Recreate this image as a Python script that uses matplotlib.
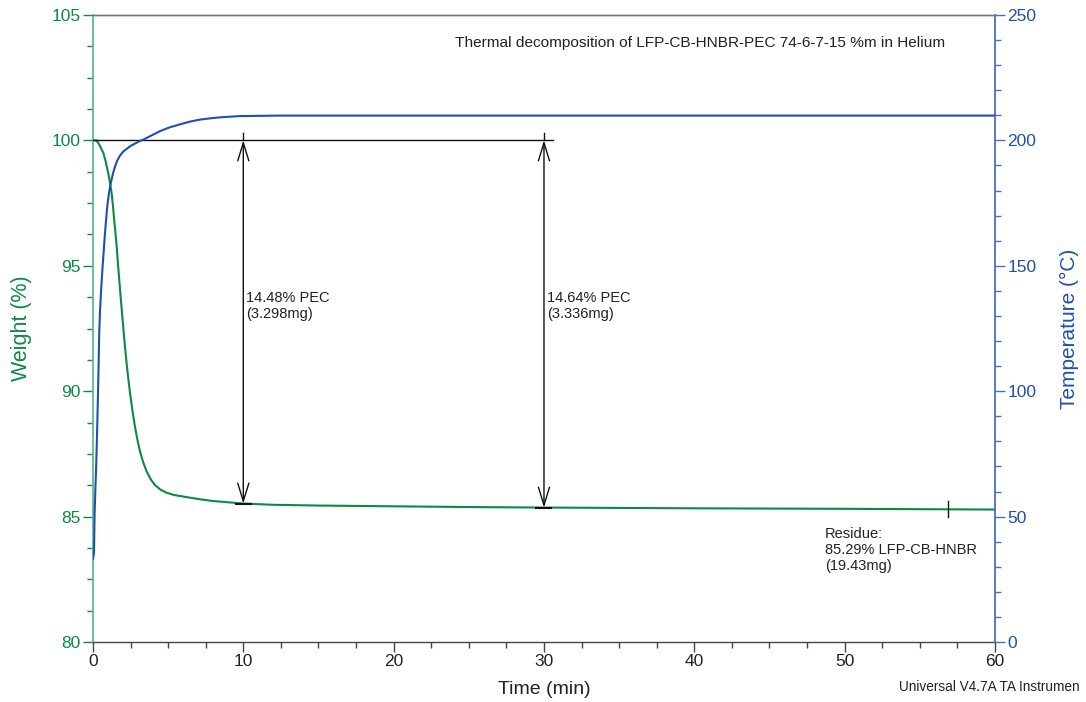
import matplotlib
matplotlib.use("Agg")
import matplotlib.pyplot as plt
from matplotlib.ticker import MultipleLocator

plt.rcParams['font.family'] = ['Liberation Sans', 'DejaVu Sans']

# Weight curve (time min, weight %)
w_time = [0.0, 0.24, 0.45, 0.69, 0.85, 1.02, 1.12, 1.24, 1.33, 1.4, 1.49, 1.58, 1.66, 1.75, 1.85, 1.95,
          2.05, 2.15, 2.25, 2.35, 2.46, 2.62, 2.79, 2.96, 3.13, 3.35, 3.57, 3.85, 4.12, 4.5, 4.9, 5.4, 6.0,
          6.5, 7.12, 8.0, 9.0, 10.0, 12.0, 15.0, 20.0, 25.0, 30.0, 40.0, 50.0, 56.9, 60.0]
w_val = [100.0, 100.0, 99.8, 99.5, 99.15, 98.69, 98.35, 97.9, 97.4, 96.9, 96.35, 95.76, 95.1, 94.43, 93.7, 93.0,
         92.3, 91.65, 91.05, 90.5, 89.95, 89.25, 88.6, 88.05, 87.6, 87.15, 86.8, 86.48, 86.26, 86.07, 85.95, 85.86, 85.8,
         85.75, 85.69, 85.62, 85.57, 85.52, 85.47, 85.44, 85.41, 85.38, 85.36, 85.33, 85.31, 85.29, 85.28]

# Temperature curve (time min, deg C)
t_time = [0.0, 0.07, 0.11, 0.16, 0.22, 0.28, 0.33, 0.38, 0.42, 0.47, 0.53, 0.64, 0.8, 0.95, 1.06,
          1.18, 1.32, 1.46, 1.62, 1.8, 2.02, 2.5, 3.13, 3.35, 3.9, 4.46, 5.1, 5.79, 6.45, 7.12, 7.8,
          8.45, 9.78, 12.4, 20.0, 30.0, 40.0, 50.0, 60.0]
t_val = [33.0, 35.5, 51.3, 61.0, 71.2, 85.0, 97.8, 112.0, 124.0, 132.0, 139.0, 149.6, 163.0, 173.6, 178.8,
         182.9, 186.5, 189.5, 192.0, 194.0, 195.6, 197.8, 199.8, 200.3, 202.0, 203.7, 205.2, 206.4, 207.5, 208.3, 208.8,
         209.2, 209.7, 209.9, 209.9, 209.9, 209.9, 209.9, 209.9]

title_text = "Thermal decomposition of LFP-CB-HNBR-PEC 74-6-7-15 %m in Helium"
step1_time, step1_low, step1_label = 10.0, 85.52, "14.48% PEC\n(3.298mg)"
step2_time, step2_low, step2_label = 30.0, 85.36, "14.64% PEC\n(3.336mg)"
start_w = 100.0
line_end = 30.6
res_time, res_w, res_label = 56.9, 85.29, "Residue:\n85.29% LFP-CB-HNBR\n(19.43mg)"

GREEN = "#0b8a45"
GREEN_SP = "#62bb8c"
BLUE = "#1f4fb0"
BLUE_SP = "#4a6fc0"
TXT = "#222222"

fig = plt.figure(figsize=(10.86, 7.02), dpi=100)
ax = fig.add_axes([0.0856, 0.0855, 0.8306, 0.8931])
ax2 = ax.twinx()

ax.plot(w_time, w_val, color=GREEN, lw=1.5, zorder=3)
ax2.plot(t_time, t_val, color=BLUE, lw=1.5, zorder=3)

ax.set_xlim(0, 60)
ax.set_ylim(80, 105)
ax2.set_ylim(0, 250)

ax.xaxis.set_major_locator(MultipleLocator(10))
ax.xaxis.set_minor_locator(MultipleLocator(2.5))
ax.yaxis.set_major_locator(MultipleLocator(5))
ax.yaxis.set_minor_locator(MultipleLocator(1.25))
ax2.yaxis.set_major_locator(MultipleLocator(50))
ax2.yaxis.set_minor_locator(MultipleLocator(10))

for a in (ax, ax2):
    for s in a.spines.values():
        s.set_linewidth(1.0)
ax.spines['left'].set_color(GREEN_SP)
ax.spines['left'].set_linewidth(1.3)
ax2.spines['left'].set_visible(False)
ax.spines['right'].set_visible(False)
ax2.spines['right'].set_color(BLUE_SP)
ax2.spines['right'].set_linewidth(1.3)
ax.spines['top'].set_color("#777777")
ax2.spines['top'].set_color("#777777")
ax.spines['bottom'].set_color("#444444")
ax2.spines['bottom'].set_visible(False)

ax.tick_params(axis='x', which='major', length=7, width=1, color="#444444", labelsize=12.5, labelcolor=TXT, pad=2)
ax.tick_params(axis='x', which='minor', length=4, width=1, color="#444444")
ax.tick_params(axis='y', which='major', length=7, width=1, color=GREEN, labelsize=12.5, labelcolor=GREEN, pad=2)
ax.tick_params(axis='y', which='minor', length=4, width=1, color=GREEN)
ax2.tick_params(axis='y', which='major', length=7, width=1, color=BLUE_SP, labelsize=12.5, labelcolor=BLUE, pad=2)
ax2.tick_params(axis='y', which='minor', length=4, width=1, color=BLUE_SP)

ax.set_xlabel("Time (min)", fontsize=14, color=TXT, labelpad=8.5)
ax.set_ylabel("Weight (%)", fontsize=15.5, color=GREEN, labelpad=14)
ax2.set_ylabel("Temperature (°C)", fontsize=15, color=BLUE, labelpad=17)

# annotations on weight axis
ax.plot([0, line_end], [start_w, start_w], color="#111111", lw=1.0, zorder=4)
for tt, lo, lab in [(step1_time, step1_low, step1_label), (step2_time, step2_low, step2_label)]:
    ax.annotate("", xy=(tt, lo), xytext=(tt, start_w),
                arrowprops=dict(arrowstyle="<->,head_length=1.3,head_width=0.4", color="#111111", lw=1.0,
                                shrinkA=0, shrinkB=0), zorder=5)
    ax.plot([tt, tt], [start_w, start_w + 0.3], color="#111111", lw=1.0, zorder=5)
    ax.plot([tt - 0.5, tt + 0.5], [lo, lo], color="#111111", lw=1.5, zorder=5)
    ax.text(tt + 0.2, 94.0, lab, fontsize=10.5, color=TXT, va='top', ha='left', linespacing=1.15)

ax.plot([res_time, res_time], [res_w - 0.3, res_w + 0.35], color="#111111", lw=1.0, zorder=5)
ax.text(48.7, 84.6, res_label, fontsize=10.5, color=TXT, va='top', ha='left', linespacing=1.2)

ax.text(40.4, 103.88, title_text, fontsize=11.1, color=TXT, va='center', ha='center')
fig.text(0.9945, 0.022, "Universal V4.7A TA Instrumen", fontsize=9.8, color=TXT, ha='right', va='center')

fig.savefig("out.png", dpi=100)
